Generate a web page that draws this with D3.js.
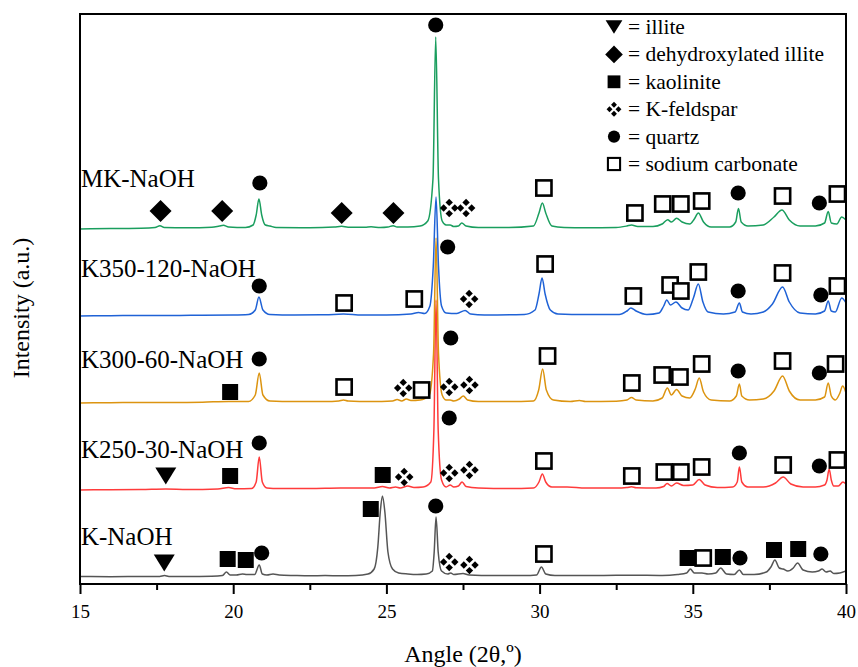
<!DOCTYPE html>
<html><head><meta charset="utf-8">
<script src="https://cdn.jsdelivr.net/npm/d3@7"></script>
<style>
body{margin:0;background:#fff}
svg text{font-family:"Liberation Serif","Times New Roman",serif !important;fill:#000}
</style>
</head><body><svg id="c" width="858" height="667"></svg>
<script>
// ---------------- DATA ----------------
const seriesNames = ["K-NaOH","K250-30-NaOH","K300-60-NaOH","K350-120-NaOH","MK-NaOH"];
const seriesOffsets = [7, 94, 181, 268, 355];
const labelLevels = [39, 126, 216, 307, 397];
const xTicks = [15,20,25,30,35,40];
const xMinorTicks = [17.5,22.5,27.5,32.5,37.5];

const kNaOH = [[15,0.5],[16,0.3],[17,0.5],[17.6,0.6],[17.76,1.5],[17.9,0.6],[18.5,0.5],[19.3,0.8],[19.65,1.5],[19.78,5],[19.9,2],[20.1,2],[20.3,3],[20.45,2.5],[20.7,2.5],[20.85,12],[20.95,3],[21.1,2],[21.3,3],[21.5,2],[22,1.5],[22.5,1.2],[23,1.5],[23.5,1.2],[24,1.5],[24.4,3],[24.6,8],[24.72,30],[24.8,65],[24.87,81],[24.95,65],[25.05,25],[25.2,8],[25.4,4],[25.7,3],[26,2.5],[26.3,3],[26.5,6],[26.56,25],[26.62,60],[26.69,25],[26.8,6],[27,3],[27.1,4],[27.2,2.5],[27.5,3.5],[27.7,2],[28.5,1.5],[29.5,1.5],[29.9,2],[30.06,10],[30.2,3],[30.5,1.5],[31,1.5],[32,1.5],[33,1.8],[34,1.5],[34.5,2.5],[34.8,4],[34.92,8],[35.05,4],[35.3,4],[35.5,3],[35.75,4],[35.91,9],[36.1,3],[36.35,2.5],[36.52,7],[36.65,2.5],[37,2.5],[37.4,5],[37.55,10],[37.68,17],[37.82,9],[37.95,8],[38.1,6],[38.28,9],[38.42,14],[38.6,7],[38.9,5],[39.1,6],[39.22,8],[39.35,5],[39.48,6],[39.6,3.5],[39.8,4],[40,6]];

const k250 = [[15,0],[16,0.3],[17,0.5],[17.8,1],[18.5,0.5],[19.5,1],[19.85,2.5],[20.1,1.2],[20.6,1.5],[20.75,8],[20.85,33],[20.95,8],[21.1,2],[21.5,1.5],[22.5,1.5],[23.5,2],[24,2],[24.6,2],[24.87,3.5],[25.1,2],[25.3,3],[25.45,2],[25.7,4],[25.9,2.5],[26.2,3],[26.45,8],[26.55,60],[26.62,190],[26.69,60],[26.8,10],[26.95,3],[27.08,5],[27.2,3],[27.35,4],[27.47,8],[27.6,3.5],[28,2],[29,1.5],[29.8,2],[29.98,8],[30.09,16],[30.2,8],[30.4,3],[30.9,3],[31.5,2],[32.5,2],[32.85,2.5],[33,3.2],[33.15,2.2],[33.8,2],[34.05,3.5],[34.16,6.5],[34.3,4],[34.47,7],[34.7,4.5],[35,5],[35.21,10.5],[35.4,5],[35.8,2.5],[36.3,3],[36.45,8],[36.52,23],[36.6,8],[36.8,3],[37.3,3],[37.7,7],[37.95,13],[38.2,6],[38.6,3],[39,3],[39.3,5],[39.38,10],[39.45,21],[39.52,10],[39.6,4],[39.75,4],[39.9,8],[40,6]];

const k300 = [[15,0],[16,0.3],[17,0.5],[18,0.5],[19,0.8],[19.85,1.5],[20.5,1.5],[20.72,8],[20.85,30],[20.97,8],[21.2,2],[22,1.5],[23,1.5],[23.45,2],[23.6,3],[23.75,2],[24.5,1.5],[25.2,2],[25.35,3.5],[25.5,2],[25.65,4],[25.8,2.5],[26.1,3],[26.4,8],[26.54,50],[26.62,165],[26.7,50],[26.82,8],[26.95,3],[27.08,3],[27.2,2],[27.38,4],[27.51,7],[27.65,3],[28,1.5],[29,1.5],[29.8,2],[29.97,13],[30.1,34],[30.22,13],[30.45,3],[31,1.5],[31.3,2.5],[31.5,1.5],[32.5,1.8],[32.85,3],[33,5.5],[33.15,3],[33.7,2],[34,5],[34.17,15],[34.3,8],[34.47,13.5],[34.65,7],[34.9,5],[35.08,14],[35.21,25],[35.35,11],[35.6,3],[36.2,2],[36.42,7],[36.52,19],[36.6,7],[36.85,3],[37.3,4],[37.65,12],[37.93,27],[38.15,12],[38.5,3],[39,3],[39.3,6],[39.42,20],[39.52,7],[39.65,3],[39.8,10],[39.89,17],[40,10]];

const k350 = [[15,0],[16,0.3],[17,0.5],[18,0.5],[19,0.8],[20,1],[20.5,1.5],[20.72,6],[20.84,19],[20.97,6],[21.2,1.5],[22,1],[23,1.2],[23.6,2],[24.2,1],[25,1],[25.8,2],[26.05,3.5],[26.25,2.5],[26.42,10],[26.53,50],[26.62,119],[26.7,50],[26.8,10],[26.95,3],[27.3,2.5],[27.57,5.6],[27.75,2],[28.2,1],[29.5,1.5],[29.85,6],[29.98,22],[30.08,38],[30.18,22],[30.35,6],[30.6,2],[31.5,1.5],[32.6,1.5],[32.85,5],[32.98,8],[33.15,5],[33.5,1.5],[33.9,3],[34.05,10],[34.15,16],[34.27,11],[34.45,14],[34.65,8],[34.85,6],[35.02,18],[35.18,32],[35.33,14],[35.5,4],[36,2],[36.38,4],[36.52,13],[36.62,4],[36.9,2],[37.3,4],[37.6,12],[37.93,29],[38.15,14],[38.5,3],[39,2],[39.3,5],[39.42,15],[39.52,5],[39.65,4],[39.86,18],[40,13]];

const mk = [[15,0],[16,0.5],[17,0.8],[17.45,1.5],[17.61,3.3],[17.75,1.5],[18.5,1.2],[19.3,1.8],[19.55,3],[19.68,3.7],[19.85,2],[20.4,1.5],[20.65,4],[20.75,14],[20.84,30],[20.93,14],[21.05,4],[21.2,3],[21.4,1.5],[22.5,1.2],[23.3,2],[23.54,2.7],[23.75,1.8],[24.3,1.8],[24.5,2.2],[24.8,1.5],[25.05,2],[25.22,3.3],[25.35,2],[25.7,2],[26.1,3],[26.35,8],[26.52,50],[26.61,192],[26.7,50],[26.82,8],[26.95,4],[27.08,4],[27.2,2.5],[27.35,3],[27.46,6],[27.6,3],[28,1.5],[29,1.5],[29.8,3],[29.98,16],[30.09,26],[30.2,16],[30.4,3],[30.8,1.5],[31.5,1.2],[32.5,1.5],[32.85,3],[33,4],[33.2,2.5],[33.7,2.5],[34,5],[34.18,9.3],[34.3,7],[34.47,10.7],[34.65,7],[34.9,5],[35.05,10],[35.18,16],[35.35,7],[35.6,2],[36.2,2],[36.4,7],[36.49,20.6],[36.58,7],[36.8,3],[37.3,4],[37.65,12],[37.91,19],[38.15,9],[38.5,3],[39,3],[39.3,6],[39.42,17.6],[39.52,6],[39.7,5],[39.86,12],[40,9]];

// phase markers: [phase, angle, absolute level]
const markersK = [["illite",17.75,21],["kaolinite",19.82,25],["kaolinite",20.41,24],["quartz",20.93,31],["kaolinite",24.49,75],["quartz",26.61,78],["kfeld",27.05,22],["kfeld",27.71,19],["sodium",30.14,30],["kaolinite",34.83,26],["sodium",35.34,26],["kaolinite",35.98,27],["quartz",36.54,26],["kaolinite",37.65,34],["kaolinite",38.44,35],["quartz",39.18,30]];
const markersK250 = [["illite",17.80,108],["kaolinite",19.90,108],["quartz",20.85,141],["kaolinite",24.88,109],["kfeld",25.58,107],["quartz",27.05,166],["kfeld",27.05,111],["kfeld",27.71,114],["sodium",30.14,123],["sodium",33.01,108],["sodium",34.07,112],["sodium",34.61,112],["sodium",35.29,117],["quartz",36.52,131],["sodium",37.95,119],["quartz",39.13,118],["sodium",39.72,124]];
const markersK300 = [["kaolinite",19.90,192],["quartz",20.85,225],["sodium",23.62,197],["kfeld",25.55,196],["sodium",26.15,194],["quartz",27.10,246],["kfeld",27.05,197],["kfeld",27.71,199],["sodium",30.26,228],["sodium",33.01,201],["sodium",34.0,209],["sodium",34.58,207],["sodium",35.29,220],["quartz",36.48,213],["sodium",37.93,223],["quartz",39.13,211],["sodium",39.66,220]];
const markersK350 = [["quartz",20.85,298],["sodium",23.62,281],["sodium",25.91,285],["quartz",27.0,337],["kfeld",27.7,285],["sodium",30.18,320],["sodium",33.06,288],["sodium",34.26,299],["sodium",34.61,293],["sodium",35.18,312],["quartz",36.48,293],["sodium",37.93,311],["quartz",39.18,289],["sodium",39.72,298]];
const markersMK = [["dehyd",17.63,373],["dehyd",19.64,373],["quartz",20.87,401],["dehyd",23.54,371],["dehyd",25.23,371],["quartz",26.61,559],["kfeld",27.05,376],["kfeld",27.6,376],["sodium",30.14,396],["sodium",33.11,371],["sodium",34.02,380],["sodium",34.61,380],["sodium",35.29,383],["quartz",36.48,391],["sodium",37.93,388],["quartz",39.13,381],["sodium",39.72,390]];

const legendPhases = ["illite","dehyd","kaolinite","kfeld","quartz","sodium"];
const legendLabels = ["= illite","= dehydroxylated illite","= kaolinite","= K-feldspar","= quartz","= sodium carbonate"];

// ---------------- STYLE / LAYOUT ----------------
const seriesData = [kNaOH, k250, k300, k350, mk];
const seriesMarkers = [markersK, markersK250, markersK300, markersK350, markersMK];
const colors = ["#555555","#ff3b3b","#dc9410","#1f62d6","#1a9e5e"];
const SERIF = "'Liberation Serif','Times New Roman',serif";

const m = {left:80, right:846, top:14, bottom:584};
const svg = d3.select("#c");
const x = d3.scaleLinear().domain([15,40]).range([m.left, m.right]);
const y = d3.scaleLinear().domain([0,570]).range([m.bottom, m.top]);

svg.append("defs").append("clipPath").attr("id","clip")
  .append("rect").attr("x",m.left).attr("y",m.top).attr("width",m.right-m.left).attr("height",m.bottom-m.top);
const plot = svg.append("g");

const line = d3.line().x(d=>x(d[0])).y(d=>y(d[1])).curve(d3.curveMonotoneX);

seriesData.forEach((s,i)=>{
  const off = seriesOffsets[i];
  plot.append("path")
    .datum(s.map(p=>[p[0], p[1]+off]))
    .attr("d", line)
    .attr("fill","none")
    .attr("stroke", colors[i])
    .attr("stroke-width",1.5)
    .attr("stroke-linejoin","round")
    .attr("clip-path","url(#clip)");
});

function drawSym(g, type){
  if(type==="illite"){
    g.append("path").attr("d","M-10.5,-8.5L10.5,-8.5L0,8.5Z").attr("fill","#000");
  } else if(type==="dehyd"){
    g.append("path").attr("d","M0,-11L11,0L0,11L-11,0Z").attr("fill","#000");
  } else if(type==="kaolinite"){
    g.append("rect").attr("x",-8).attr("y",-8).attr("width",16).attr("height",16).attr("fill","#000");
  } else if(type==="kfeld"){
    [[0,-5.6],[-5.6,0],[5.6,0],[0,5.6]].forEach(c=>{
      const r=3.7;
      g.append("path").attr("d",`M${c[0]},${c[1]-r}L${c[0]+r},${c[1]}L${c[0]},${c[1]+r}L${c[0]-r},${c[1]}Z`).attr("fill","#000");
    });
  } else if(type==="quartz"){
    g.append("circle").attr("r",7.6).attr("fill","#000");
  } else if(type==="sodium"){
    g.append("rect").attr("x",-7.6).attr("y",-7.6).attr("width",15.2).attr("height",15.2)
      .attr("fill","#fff").attr("stroke","#000").attr("stroke-width",2.6);
  }
}

seriesMarkers.forEach(arr=>{
  arr.forEach(mk=>{
    const g = svg.append("g").attr("transform",`translate(${x(mk[1])},${y(mk[2])})`);
    drawSym(g, mk[0]);
  });
});

// series labels
seriesNames.forEach((n,i)=>{
  svg.append("text").attr("x", x(15.03)).attr("y", y(labelLevels[i]))
    .attr("font-size",25).text(n);
});

// frame
svg.append("rect").attr("x",m.left).attr("y",m.top).attr("width",m.right-m.left).attr("height",m.bottom-m.top)
  .attr("fill","none").attr("stroke","#000").attr("stroke-width",2);

// x axis
const ax = svg.append("g").attr("transform",`translate(0,${m.bottom})`)
  .call(d3.axisBottom(x).tickValues(xTicks).tickSize(10).tickPadding(11).tickFormat(d3.format("d")));
ax.attr("font-family",null).attr("font-size",null);
ax.select(".domain").remove();
ax.selectAll("line").attr("stroke-width",2);
ax.selectAll("text").attr("font-size",19);
const axm = svg.append("g").attr("transform",`translate(0,${m.bottom})`)
  .call(d3.axisBottom(x).tickValues(xMinorTicks).tickSize(6).tickFormat(""));
axm.select(".domain").remove();
axm.selectAll("line").attr("stroke-width",2);

// axis titles
svg.append("text").attr("x",(m.left+m.right)/2).attr("y",662).attr("text-anchor","middle")
  .attr("font-size",24).text("Angle (2θ,º)");
svg.append("text").attr("transform","translate(29,308) rotate(-90)").attr("text-anchor","middle")
  .attr("font-size",24).text("Intensity (a.u.)");

// legend
legendPhases.forEach((p,i)=>{
  const cy = 27 + i*27.4;
  const g = svg.append("g").attr("transform",`translate(614,${cy}) scale(0.8)`);
  drawSym(g,p);
  svg.append("text").attr("x",628).attr("y",cy+7).attr("font-size",21.5).text(legendLabels[i]);
});

svg.selectAll("text").style("font-family", SERIF).style("fill","#000");
</script></body></html>
